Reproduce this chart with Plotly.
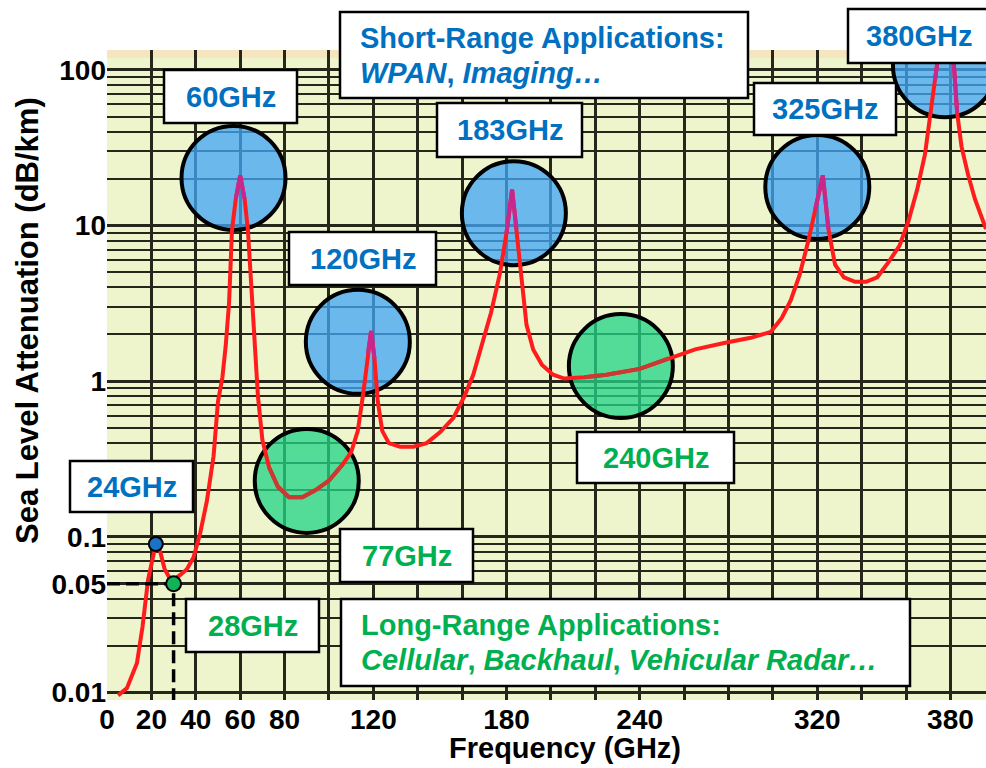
import math
import plotly.graph_objects as go

# ---------------- data ----------------
freq_ghz = [5, 9, 13.5, 16, 18.5, 20.7, 22, 24, 26, 28, 30, 33, 36, 39, 42, 45, 48,
            50, 52, 53.5, 55, 56.3, 58, 60, 62, 63.5, 65, 66.5, 68, 70, 73, 77, 82,
            88, 94, 100, 106, 110, 113, 115.5, 117.5, 119, 120.5, 122, 124, 127,
            132, 138, 144, 150, 156, 161, 165, 169, 173, 177, 180, 182.5, 184.5,
            186.5, 189, 192, 196, 201, 206, 215, 225, 240, 253, 265, 278, 290, 299,
            304, 308, 312, 316, 319, 322.5, 325, 328, 332, 337, 342, 347, 352, 357,
            361, 365, 368.5, 371, 373, 375, 381, 383, 385, 388, 391, 396]
atten_db_km = [0.0096, 0.0107, 0.0155, 0.0265, 0.053, 0.074, 0.09, 0.08, 0.062,
               0.055, 0.053, 0.057, 0.062, 0.074, 0.106, 0.17, 0.33, 0.74, 1.06,
               1.7, 3.2, 9.3, 14.8, 21, 14.8, 9.3, 4.2, 1.7, 0.8, 0.42, 0.28, 0.21,
               0.18, 0.18, 0.2, 0.23, 0.29, 0.35, 0.48, 0.85, 1.5, 2.1, 1.4, 0.74,
               0.48, 0.4, 0.38, 0.38, 0.4, 0.47, 0.58, 0.8, 1.1, 1.7, 2.75, 4.9, 9,
               17, 9.5, 4.8, 2.3, 1.6, 1.27, 1.1, 1.04, 1.06, 1.1, 1.2, 1.4, 1.6,
               1.76, 1.9, 2.07, 2.55, 3.3, 4.8, 8, 12.7, 21, 9.5, 5.6, 4.65, 4.35,
               4.35, 4.65, 5.8, 7.4, 10.6, 17, 28.6, 51, 85, 140, 140, 53, 32, 21,
               14.8, 9.5]

x_tick_vals = [0, 20, 40, 60, 80, 120, 180, 240, 320, 380]
y_tick_vals = [0.01, 0.05, 0.1, 1, 10, 100]
y_tick_text = ["0.01", "0.05", "0.1", "1", "10", "100"]

# highlighted windows (circle centres: frequency, attenuation)
short_range_freq = [57, 113, 183.3, 320, 377.5]
short_range_att = [20.2, 1.79, 12.0, 17.7, 107]
long_range_freq = [90, 231.5]
long_range_att = [0.229, 1.25]

dot_24_freq, dot_24_att = 22, 0.09
dot_28_freq, dot_28_att = 30, 0.05

# ---------------- layout constants ----------------
W, H = 986, 768
ML, MR, MT, MB = 107, 0, 50, 68
X_RANGE = [0, 396]
Y_RANGE = [-2.0475, 2.1272]
R_PX = 52
PW, PH = W - ML - MR, H - MT - MB
PX_PER_X = PW / (X_RANGE[1] - X_RANGE[0])
PX_PER_DEC = PH / (Y_RANGE[1] - Y_RANGE[0])

BLUE = "#0070C0"
GREEN = "#00B050"
FONT = "Liberation Sans, Arial, sans-serif"
GRID = "#26261a"
LABEL_SIZE = 29


def to_px(f, v):
    x = ML + (f - X_RANGE[0]) * PX_PER_X
    y = MT + (Y_RANGE[1] - math.log10(v)) * PX_PER_DEC
    return x, y


def paper_x(px):
    return (px - ML) / PW


def paper_y(py):
    return (H - MB - py) / PH


def inside(cfs, cas):
    out = []
    centres = [to_px(a, b) for a, b in zip(cfs, cas)]
    for f, v in zip(freq_ghz, atten_db_km):
        x, y = to_px(f, v)
        hit = any(math.hypot(x - cx, y - cy) <= R_PX - 2 for cx, cy in centres)
        out.append(v if hit else None)
    return out


def circle(f, a, fill):
    dx = R_PX / PX_PER_X
    dy = 10 ** (R_PX / PX_PER_DEC)
    return dict(type="circle", xref="x", yref="y", x0=f - dx, x1=f + dx,
                y0=a / dy, y1=a * dy, fillcolor=fill,
                line=dict(color="black", width=4), layer="between")


fig = go.Figure()

# main attenuation curve
fig.add_trace(go.Scatter(x=freq_ghz, y=atten_db_km, mode="lines",
                         line=dict(color="#ff1c1c", width=4), showlegend=False))
# curve tint where it passes through the highlight circles
fig.add_trace(go.Scatter(x=freq_ghz, y=inside(short_range_freq, short_range_att),
                         mode="lines", connectgaps=False,
                         line=dict(color="#c8288e", width=4), showlegend=False))
fig.add_trace(go.Scatter(x=freq_ghz, y=inside(long_range_freq, long_range_att),
                         mode="lines", connectgaps=False,
                         line=dict(color="#c83a32", width=4), showlegend=False))

# dashed guide lines for 28 GHz / 0.05 dB/km
y_bottom = 10 ** Y_RANGE[0]
fig.add_trace(go.Scatter(x=[X_RANGE[0], dot_28_freq, dot_28_freq],
                         y=[dot_28_att, dot_28_att, y_bottom], mode="lines",
                         line=dict(color="black", width=3.5, dash="13px,6px"),
                         showlegend=False))
# marker dots
fig.add_trace(go.Scatter(x=[dot_24_freq], y=[dot_24_att], mode="markers",
                         marker=dict(size=14, color="#1a73c8",
                                     line=dict(color="black", width=2)),
                         showlegend=False))
fig.add_trace(go.Scatter(x=[dot_28_freq], y=[dot_28_att], mode="markers",
                         marker=dict(size=15, color="#12b256",
                                     line=dict(color="black", width=2)),
                         showlegend=False))

shapes = []
# pale paper edge at the top of the plot
shapes.append(dict(type="rect", xref="paper", yref="paper", x0=0, x1=1,
                   y0=paper_y(58), y1=1, fillcolor="#f6e6c0", line_width=0,
                   layer="between"))
for f, a in zip(short_range_freq, short_range_att):
    shapes.append(circle(f, a, "rgba(66,165,246,0.76)"))
for f, a in zip(long_range_freq, long_range_att):
    shapes.append(circle(f, a, "rgba(34,212,134,0.76)"))

# text boxes: (lines, (left, top, right, bottom) in px, colour, alignment)
labels = [
    (["Short-Range Applications:", "<i>WPAN</i>, <i>Imaging…</i>"], (340, 12, 748, 98), BLUE, "left"),
    (["60GHz"], (164, 70, 297, 123), BLUE, "center"),
    (["120GHz"], (289, 232, 436, 285), BLUE, "center"),
    (["183GHz"], (437, 103, 582, 157), BLUE, "center"),
    (["325GHz"], (754, 83, 896, 135), BLUE, "center"),
    (["380GHz"], (848, 9, 990, 63), BLUE, "center"),
    (["24GHz"], (70, 461, 193, 512), BLUE, "center"),
    (["28GHz"], (186, 599, 319, 652), GREEN, "center"),
    (["77GHz"], (340, 529, 473, 582), GREEN, "center"),
    (["240GHz"], (577, 432, 734, 483), GREEN, "center"),
    (["Long-Range Applications:", "<i>Cellular</i>, <i>Backhaul</i>, <i>Vehicular Radar…</i>"],
     (341, 599, 910, 686), GREEN, "left"),
]
LINE_GAP = 35
annotations = []
for lines, (l, t, r, b), col, al in labels:
    shapes.append(dict(type="rect", xref="paper", yref="paper",
                       x0=paper_x(l), x1=paper_x(r), y0=paper_y(b), y1=paper_y(t),
                       fillcolor="white", line=dict(color="black", width=2.5),
                       layer="above"))
    if al == "left":
        ax, xa = paper_x(l + 18), "left"
    else:
        ax, xa = paper_x((l + r) / 2), "center"
    mid = (t + b) / 2
    n = len(lines)
    for i, txt in enumerate(lines):
        cy = mid + (i - (n - 1) / 2) * LINE_GAP
        annotations.append(dict(text=txt, xref="paper", yref="paper", x=ax,
                                y=paper_y(cy), xanchor=xa, yanchor="middle",
                                align="left", showarrow=False,
                                font=dict(family=FONT, size=LABEL_SIZE, color=col,
                                          weight="bold")))

# axis titles
annotations.append(dict(text="Frequency (GHz)", xref="paper", yref="paper",
                        x=paper_x(565), y=paper_y(748), xanchor="center",
                        yanchor="middle", showarrow=False,
                        font=dict(family=FONT, size=29, color="black", weight="bold")))
annotations.append(dict(text="Sea Level Attenuation (dB/km)", xref="paper", yref="paper",
                        x=paper_x(27), y=paper_y(321), xanchor="center",
                        yanchor="middle", textangle=-90, showarrow=False,
                        font=dict(family=FONT, size=31, color="black", weight="bold")))

minor_y = [k * 10 ** n for n in range(-3, 3) for k in range(1, 10)]
tick_font = dict(family=FONT, size=28, color="black", weight="bold")

fig.update_layout(
    width=W, height=H,
    margin=dict(l=ML, r=MR, t=MT, b=MB, pad=0),
    paper_bgcolor="white", plot_bgcolor="#eef4cb",
    showlegend=False,
    shapes=shapes, annotations=annotations,
    xaxis=dict(range=X_RANGE, tickmode="array", tickvals=x_tick_vals,
               ticks="", showgrid=True, gridcolor=GRID, gridwidth=2.5,
               zeroline=False, showline=False, tickfont=tick_font,
               minor=dict(dtick=20, tick0=0, showgrid=True, gridcolor=GRID,
                          gridwidth=2.5, ticks="")),
    yaxis=dict(type="log", range=Y_RANGE, tickmode="array", tickvals=y_tick_vals,
               ticktext=y_tick_text, ticks="", showgrid=True, gridcolor=GRID,
               gridwidth=3, zeroline=False, showline=False, tickfont=tick_font,
               minor=dict(tickmode="array", tickvals=minor_y, showgrid=True,
                          gridcolor=GRID, gridwidth=2.2, ticks="")),
)

fig.write_html("out.html")
